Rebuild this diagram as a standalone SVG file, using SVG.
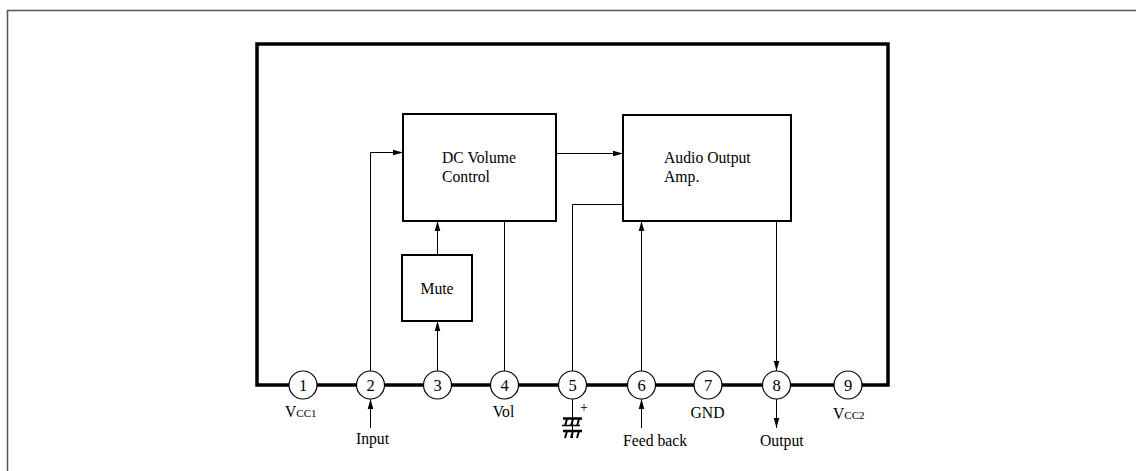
<svg xmlns="http://www.w3.org/2000/svg" width="1136" height="471" viewBox="0 0 1136 471">
<style>
  text { font-family: "Liberation Serif", "Times New Roman", serif; fill: #000; }
  .lbl { font-size: 15.7px; }
  .num { font-size: 16.5px; text-anchor: middle; }
  .sub { font-size: 11px; }
  .box { fill: #fff; stroke: #000; stroke-width: 2; }
  .pin { fill: #fff; stroke: #000; stroke-width: 1.2; }
  .wire { fill: none; stroke: #000; stroke-width: 1; }
</style>
<defs>
  <marker id="arr" markerUnits="userSpaceOnUse" markerWidth="10" markerHeight="8" refX="10" refY="4" orient="auto">
    <path d="M0,1.2 L10,4 L0,6.8 Z" fill="#000"/>
  </marker>
</defs>
<rect width="1136" height="471" fill="#fff"/>
<path d="M7.5 471 V10.5 H1136" fill="none" stroke="#555" stroke-width="1.5"/>

<g id="chip">
  <path d="M257 385 V44 H888 V385 Z" fill="none" stroke="#000" stroke-width="3.5"/>
</g>

<g id="connectors">
  <path class="wire" d="M370.5 371 V152.5 H403" marker-end="url(#arr)"/>
  <path class="wire" d="M556 153.5 H623" marker-end="url(#arr)"/>
  <path class="wire" d="M437.5 371 V321" marker-end="url(#arr)"/>
  <path class="wire" d="M437.5 255 V221" marker-end="url(#arr)"/>
  <path class="wire" d="M504.5 221 V371"/>
  <path class="wire" d="M572.5 371 V204.5 H623"/>
  <path class="wire" d="M641.5 371 V221" marker-end="url(#arr)"/>
  <path class="wire" d="M776.5 221 V371" marker-end="url(#arr)"/>
  <path class="wire" d="M370.5 428 V399" marker-end="url(#arr)"/>
  <path class="wire" d="M641.5 428 V399" marker-end="url(#arr)"/>
  <path class="wire" d="M776.5 399 V428" marker-end="url(#arr)"/>
  <path class="wire" d="M572.5 399 V438"/>
</g>

<g id="dc-volume">
  <rect class="box" x="403" y="114" width="153" height="107"/>
  <text class="lbl" x="442" y="163">DC Volume</text>
  <text class="lbl" x="442" y="182">Control</text>
</g>
<g id="audio-amp">
  <rect class="box" x="623" y="115" width="168" height="106"/>
  <text class="lbl" x="664" y="163">Audio Output</text>
  <text class="lbl" x="664" y="182">Amp.</text>
</g>
<g id="mute">
  <rect class="box" x="402" y="255" width="70" height="66"/>
  <text class="lbl" x="437" y="294" text-anchor="middle">Mute</text>
</g>

<g id="capacitor">
  <path d="M563 418.5 H582" stroke="#000" stroke-width="2.5"/>
  <path d="M567 419 L565 426 M573 419 L571 426 M579 419 L577 426" stroke="#000" stroke-width="2"/>
  <path d="M562 425.5 H580" stroke="#000" stroke-width="1.5"/>
  <path d="M563 431 H582" stroke="#000" stroke-width="2.5"/>
  <path d="M567 431 L565 438 M573 431 L571 438 M579 431 L577 438" stroke="#000" stroke-width="2"/>
  <text x="584" y="412" style="font-size:14px" text-anchor="middle">+</text>
</g>

<g id="pin1"><circle class="pin" cx="303" cy="385" r="14"/><text class="num" x="303" y="391">1</text>
  <text class="lbl" x="285" y="417">V<tspan class="sub">CC1</tspan></text></g>
<g id="pin2"><circle class="pin" cx="370.5" cy="385" r="14"/><text class="num" x="370.5" y="391">2</text>
  <text class="lbl" x="372.5" y="444" text-anchor="middle">Input</text></g>
<g id="pin3"><circle class="pin" cx="437.5" cy="385" r="14"/><text class="num" x="437.5" y="391">3</text></g>
<g id="pin4"><circle class="pin" cx="504.5" cy="385" r="14"/><text class="num" x="504.5" y="391">4</text>
  <text class="lbl" x="503.5" y="417" text-anchor="middle">Vol</text></g>
<g id="pin5"><circle class="pin" cx="572.5" cy="385" r="14"/><text class="num" x="572.5" y="391">5</text></g>
<g id="pin6"><circle class="pin" cx="641.5" cy="385" r="14"/><text class="num" x="641.5" y="391">6</text>
  <text class="lbl" x="623" y="446">Feed back</text></g>
<g id="pin7"><circle class="pin" cx="708" cy="385" r="14"/><text class="num" x="708" y="391">7</text>
  <text class="lbl" x="707.5" y="418" text-anchor="middle">GND</text></g>
<g id="pin8"><circle class="pin" cx="776.5" cy="385" r="14"/><text class="num" x="776.5" y="391">8</text>
  <text class="lbl" x="760" y="446">Output</text></g>
<g id="pin9"><circle class="pin" cx="848" cy="385" r="14"/><text class="num" x="848" y="391">9</text>
  <text class="lbl" x="833" y="419">V<tspan class="sub">CC2</tspan></text></g>
</svg>
